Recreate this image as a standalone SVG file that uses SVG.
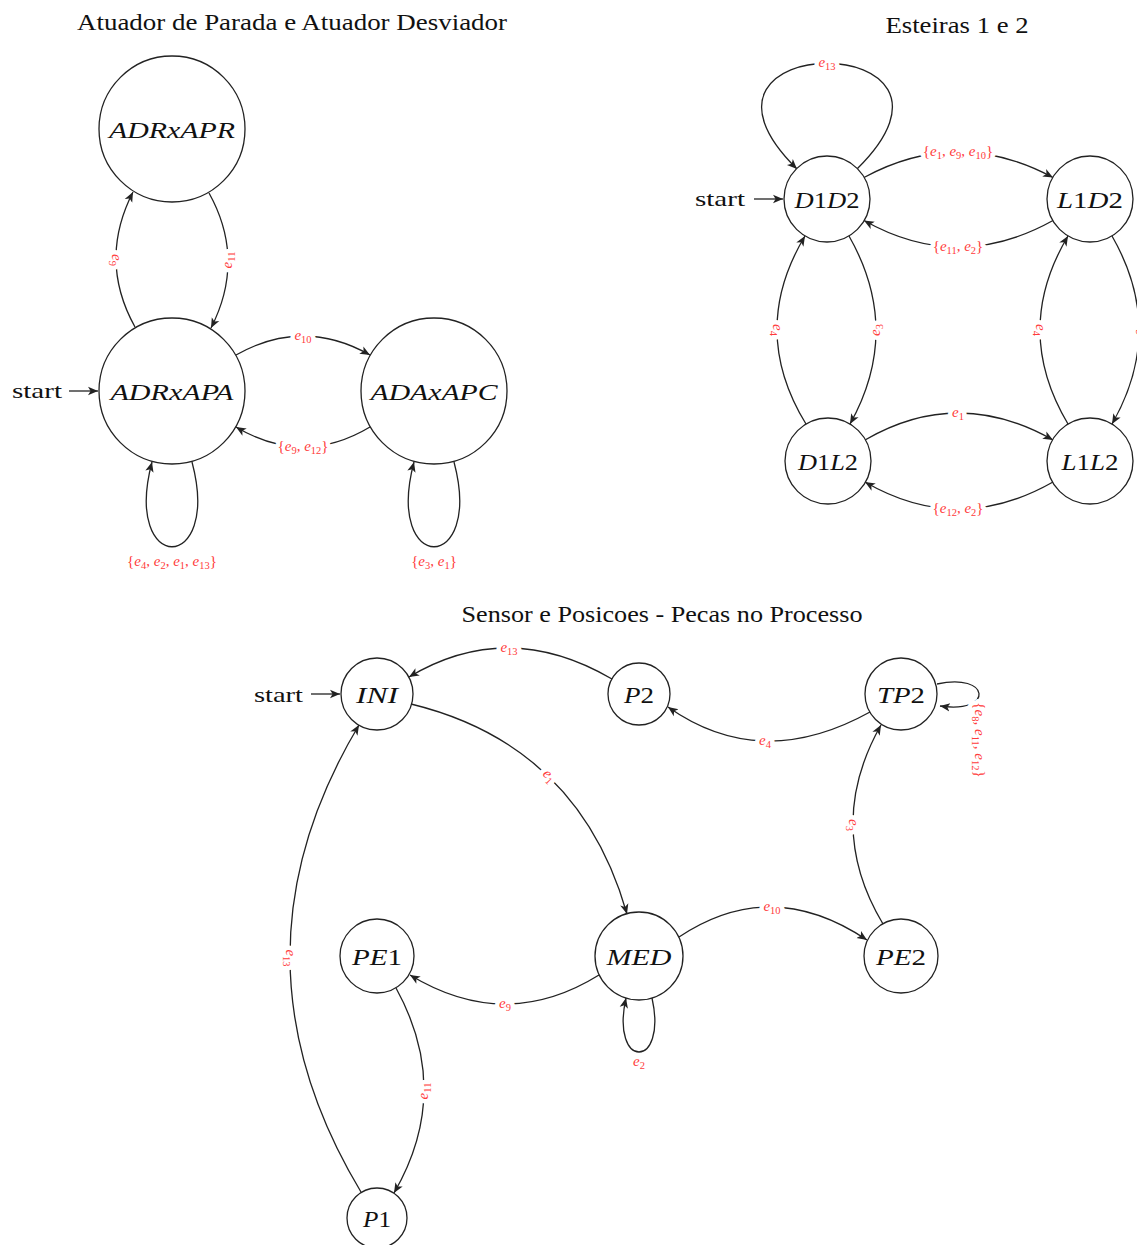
<svg xmlns="http://www.w3.org/2000/svg" xmlns:xlink="http://www.w3.org/1999/xlink" width="1137" height="1245" viewBox="0 0 1137 1245">
  <style>
    .title { font-family: "Liberation Serif", serif; font-size: 24px; fill: #111; text-anchor: middle; }
    .start { font-family: "Liberation Serif", serif; font-size: 22px; fill: #111; }
    .st { fill: #fff; stroke: #222; stroke-width: 1.3; }
    .nl { font-family: "Liberation Serif", serif; font-size: 24px; font-style: italic; fill: #111; text-anchor: middle; }
    .nl .n { font-style: normal; }
    .ed { fill: none; stroke: #222; stroke-width: 1.3; marker-end: url(#arr); }
    .lb { font-family: "Liberation Serif", serif; font-size: 15px; text-anchor: middle; }
    .lb .e { font-style: italic; }
    .lb .s { font-size: 10.5px; }
    .halo { fill: #fff; stroke: #fff; stroke-width: 9px; stroke-linejoin: round; }
    .ink { fill: #ff3b3b; stroke: none; }
  </style>
  <defs>
    <marker id="arr" markerUnits="userSpaceOnUse" viewBox="0 0 10 10" refX="10" refY="5" markerWidth="10" markerHeight="10" orient="auto">
      <path d="M10,5 L0,0.8 L2.6,5 L0,9.2 Z" fill="#222"/>
    </marker>

    <!-- edge label texts; each is drawn twice below: white halo, then red ink -->
    <text id="t-e9a" class="lb" transform="translate(116,260) rotate(90)" x="0" y="4"><tspan class="e">e</tspan><tspan class="s" dy="3">9</tspan></text>
    <text id="t-e11a" class="lb" transform="translate(228,260) rotate(-90)" x="0" y="4"><tspan class="e">e</tspan><tspan class="s" dy="3">11</tspan></text>
    <text id="t-e10a" class="lb" x="303" y="340"><tspan class="e">e</tspan><tspan class="s" dy="3">10</tspan></text>
    <text id="t-e9e12" class="lb" x="303" y="451">{<tspan class="e">e</tspan><tspan class="s" dy="3">9</tspan><tspan dy="-3">, </tspan><tspan class="e">e</tspan><tspan class="s" dy="3">12</tspan><tspan dy="-3">}</tspan></text>
    <text id="t-loopA" class="lb" x="172" y="566">{<tspan class="e">e</tspan><tspan class="s" dy="3">4</tspan><tspan dy="-3">, </tspan><tspan class="e">e</tspan><tspan class="s" dy="3">2</tspan><tspan dy="-3">, </tspan><tspan class="e">e</tspan><tspan class="s" dy="3">1</tspan><tspan dy="-3">, </tspan><tspan class="e">e</tspan><tspan class="s" dy="3">13</tspan><tspan dy="-3">}</tspan></text>
    <text id="t-loopC" class="lb" x="434" y="566">{<tspan class="e">e</tspan><tspan class="s" dy="3">3</tspan><tspan dy="-3">, </tspan><tspan class="e">e</tspan><tspan class="s" dy="3">1</tspan><tspan dy="-3">}</tspan></text>

    <text id="t-e13b" class="lb" x="827" y="67"><tspan class="e">e</tspan><tspan class="s" dy="3">13</tspan></text>
    <text id="t-e1910" class="lb" x="958" y="156">{<tspan class="e">e</tspan><tspan class="s" dy="3">1</tspan><tspan dy="-3">, </tspan><tspan class="e">e</tspan><tspan class="s" dy="3">9</tspan><tspan dy="-3">, </tspan><tspan class="e">e</tspan><tspan class="s" dy="3">10</tspan><tspan dy="-3">}</tspan></text>
    <text id="t-e112" class="lb" x="958" y="251">{<tspan class="e">e</tspan><tspan class="s" dy="3">11</tspan><tspan dy="-3">, </tspan><tspan class="e">e</tspan><tspan class="s" dy="3">2</tspan><tspan dy="-3">}</tspan></text>
    <text id="t-e4l" class="lb" transform="translate(777,330) rotate(90)" x="0" y="4"><tspan class="e">e</tspan><tspan class="s" dy="3">4</tspan></text>
    <text id="t-e3l" class="lb" transform="translate(876,330) rotate(-90)" x="0" y="4"><tspan class="e">e</tspan><tspan class="s" dy="3">3</tspan></text>
    <text id="t-e4r" class="lb" transform="translate(1040,330) rotate(90)" x="0" y="4"><tspan class="e">e</tspan><tspan class="s" dy="3">4</tspan></text>
    <text id="t-e3r" class="lb" transform="translate(1139,330) rotate(-90)" x="0" y="4"><tspan class="e">e</tspan><tspan class="s" dy="3">3</tspan></text>
    <text id="t-e1b" class="lb" x="958" y="417"><tspan class="e">e</tspan><tspan class="s" dy="3">1</tspan></text>
    <text id="t-e122" class="lb" x="958" y="513">{<tspan class="e">e</tspan><tspan class="s" dy="3">12</tspan><tspan dy="-3">, </tspan><tspan class="e">e</tspan><tspan class="s" dy="3">2</tspan><tspan dy="-3">}</tspan></text>

    <text id="t-e13c" class="lb" x="509" y="652"><tspan class="e">e</tspan><tspan class="s" dy="3">13</tspan></text>
    <text id="t-e1c" class="lb" transform="translate(549,776) rotate(45)" x="0" y="4"><tspan class="e">e</tspan><tspan class="s" dy="3">1</tspan></text>
    <text id="t-e4c" class="lb" x="765" y="745"><tspan class="e">e</tspan><tspan class="s" dy="3">4</tspan></text>
    <text id="t-loopT" class="lb" transform="translate(979,740) rotate(90)" x="0" y="4">{<tspan class="e">e</tspan><tspan class="s" dy="3">8</tspan><tspan dy="-3">, </tspan><tspan class="e">e</tspan><tspan class="s" dy="3">11</tspan><tspan dy="-3">, </tspan><tspan class="e">e</tspan><tspan class="s" dy="3">12</tspan><tspan dy="-3">}</tspan></text>
    <text id="t-e3c" class="lb" transform="translate(853,825) rotate(90)" x="0" y="4"><tspan class="e">e</tspan><tspan class="s" dy="3">3</tspan></text>
    <text id="t-e10c" class="lb" x="772" y="911"><tspan class="e">e</tspan><tspan class="s" dy="3">10</tspan></text>
    <text id="t-e9c" class="lb" x="505" y="1008"><tspan class="e">e</tspan><tspan class="s" dy="3">9</tspan></text>
    <text id="t-e2c" class="lb" x="639" y="1066"><tspan class="e">e</tspan><tspan class="s" dy="3">2</tspan></text>
    <text id="t-e11c" class="lb" transform="translate(424,1091) rotate(-90)" x="0" y="4"><tspan class="e">e</tspan><tspan class="s" dy="3">11</tspan></text>
    <text id="t-e13d" class="lb" transform="translate(290,958) rotate(90)" x="0" y="4"><tspan class="e">e</tspan><tspan class="s" dy="3">13</tspan></text>
  </defs>
  <rect width="1137" height="1245" fill="#fff"/>

  <!-- titles and start markers -->
  <text class="title" x="292" y="30" textLength="430" lengthAdjust="spacingAndGlyphs">Atuador de Parada e Atuador Desviador</text>
  <text class="title" x="957" y="33" textLength="143" lengthAdjust="spacingAndGlyphs">Esteiras 1 e 2</text>
  <text class="title" x="662" y="622" textLength="401" lengthAdjust="spacingAndGlyphs">Sensor e Posicoes - Pecas no Processo</text>
  <text class="start" x="12" y="398" textLength="50" lengthAdjust="spacingAndGlyphs">start</text>
  <text class="start" x="695" y="206" textLength="50" lengthAdjust="spacingAndGlyphs">start</text>
  <text class="start" x="254" y="702" textLength="49" lengthAdjust="spacingAndGlyphs">start</text>

  <!-- connectors -->
  <g id="edges">
    <!-- actuators -->
    <path class="ed" d="M69,391 L98,391"/>
    <path class="ed" d="M135,327 Q98,260.5 133,192"/>
    <path class="ed" d="M209,193 Q246,259.5 211,328"/>
    <path class="ed" d="M236,355 Q303,317 370,355"/>
    <path class="ed" d="M370,427 Q303,467 236,427"/>
    <path class="ed" d="M192,462 C222,575 122,575 152,462"/>
    <path class="ed" d="M454,462 C484,575 384,575 414,462"/>

    <!-- conveyors -->
    <path class="ed" d="M754,199 L783,199"/>
    <path class="ed" d="M857,169 C1000,28 654,28 797,169"/>
    <path class="ed" d="M864,177.5 Q958,126.5 1053,177.5"/>
    <path class="ed" d="M1053,220.5 Q958,273.5 864,220.5"/>
    <path class="ed" d="M806,424 Q748.5,330 805,236"/>
    <path class="ed" d="M849,236 Q902.5,330 850,424"/>
    <path class="ed" d="M1068,424 Q1012,330 1068,236"/>
    <path class="ed" d="M1112,236 Q1166,330 1112,424"/>
    <path class="ed" d="M865,440 Q958,386 1053,440"/>
    <path class="ed" d="M1053,482 Q958,536 865,482"/>

    <!-- sensor and positions -->
    <path class="ed" d="M311,694 L340,694"/>
    <path class="ed" d="M612,679 Q507.5,618 409,677"/>
    <path class="ed" d="M411,704 Q579,745 627,914"/>
    <path class="ed" d="M870,712 Q761,772.5 668,707"/>
    <path class="ed" d="M937,684 C990,672 995,714 940,706"/>
    <path class="ed" d="M883,924 Q824,825.5 881,725"/>
    <path class="ed" d="M679,937 Q771,875.5 867,940"/>
    <path class="ed" d="M599,975 Q505.5,1033 410,975"/>
    <path class="ed" d="M652,998 C668,1070 610,1070 626,998"/>
    <path class="ed" d="M396,988 Q453,1091.5 394,1193"/>
    <path class="ed" d="M361,1192 Q220,957.5 359,725"/>

    <!-- edge label halos -->
    <g class="halo">
      <use xlink:href="#t-e9a"/><use xlink:href="#t-e11a"/><use xlink:href="#t-e10a"/><use xlink:href="#t-e9e12"/>
      <use xlink:href="#t-loopA"/><use xlink:href="#t-loopC"/>
      <use xlink:href="#t-e13b"/><use xlink:href="#t-e1910"/><use xlink:href="#t-e112"/><use xlink:href="#t-e4l"/>
      <use xlink:href="#t-e3l"/><use xlink:href="#t-e4r"/><use xlink:href="#t-e3r"/><use xlink:href="#t-e1b"/><use xlink:href="#t-e122"/>
      <use xlink:href="#t-e13c"/><use xlink:href="#t-e1c"/><use xlink:href="#t-e4c"/><use xlink:href="#t-loopT"/>
      <use xlink:href="#t-e3c"/><use xlink:href="#t-e10c"/><use xlink:href="#t-e9c"/><use xlink:href="#t-e2c"/>
      <use xlink:href="#t-e11c"/><use xlink:href="#t-e13d"/>
    </g>
    <!-- edge labels -->
    <g class="ink">
      <use xlink:href="#t-e9a"/><use xlink:href="#t-e11a"/><use xlink:href="#t-e10a"/><use xlink:href="#t-e9e12"/>
      <use xlink:href="#t-loopA"/><use xlink:href="#t-loopC"/>
      <use xlink:href="#t-e13b"/><use xlink:href="#t-e1910"/><use xlink:href="#t-e112"/><use xlink:href="#t-e4l"/>
      <use xlink:href="#t-e3l"/><use xlink:href="#t-e4r"/><use xlink:href="#t-e3r"/><use xlink:href="#t-e1b"/><use xlink:href="#t-e122"/>
      <use xlink:href="#t-e13c"/><use xlink:href="#t-e1c"/><use xlink:href="#t-e4c"/><use xlink:href="#t-loopT"/>
      <use xlink:href="#t-e3c"/><use xlink:href="#t-e10c"/><use xlink:href="#t-e9c"/><use xlink:href="#t-e2c"/>
      <use xlink:href="#t-e11c"/><use xlink:href="#t-e13d"/>
    </g>
  </g>

  <!-- actuator states -->
  <g id="ADRxAPR"><circle class="st" cx="172" cy="129" r="73"/><text class="nl" x="172" y="137.5" textLength="126" lengthAdjust="spacingAndGlyphs">ADRxAPR</text></g>
  <g id="ADRxAPA"><circle class="st" cx="172" cy="391" r="73"/><text class="nl" x="172" y="399.5" textLength="123" lengthAdjust="spacingAndGlyphs">ADRxAPA</text></g>
  <g id="ADAxAPC"><circle class="st" cx="434" cy="391" r="73"/><text class="nl" x="434" y="399.5" textLength="127" lengthAdjust="spacingAndGlyphs">ADAxAPC</text></g>

  <!-- conveyor states -->
  <g id="D1D2"><circle class="st" cx="827" cy="199" r="43"/><text class="nl" x="827" y="207.5" textLength="65" lengthAdjust="spacingAndGlyphs">D<tspan class="n">1</tspan>D<tspan class="n">2</tspan></text></g>
  <g id="L1D2"><circle class="st" cx="1090" cy="199" r="43"/><text class="nl" x="1090" y="207.5" textLength="66" lengthAdjust="spacingAndGlyphs">L<tspan class="n">1</tspan>D<tspan class="n">2</tspan></text></g>
  <g id="D1L2"><circle class="st" cx="828" cy="461" r="43"/><text class="nl" x="828" y="469.5" textLength="60" lengthAdjust="spacingAndGlyphs">D<tspan class="n">1</tspan>L<tspan class="n">2</tspan></text></g>
  <g id="L1L2"><circle class="st" cx="1090" cy="461" r="43"/><text class="nl" x="1090" y="469.5" textLength="57" lengthAdjust="spacingAndGlyphs">L<tspan class="n">1</tspan>L<tspan class="n">2</tspan></text></g>

  <!-- sensor / position states -->
  <g id="INI"><circle class="st" cx="377" cy="694" r="36"/><text class="nl" x="377" y="702.5" textLength="42" lengthAdjust="spacingAndGlyphs">INI</text></g>
  <g id="P2"><circle class="st" cx="639" cy="694" r="31"/><text class="nl" x="639" y="702.5" textLength="30" lengthAdjust="spacingAndGlyphs">P<tspan class="n">2</tspan></text></g>
  <g id="TP2"><circle class="st" cx="901" cy="694" r="36"/><text class="nl" x="901" y="702.5" textLength="48" lengthAdjust="spacingAndGlyphs">TP<tspan class="n">2</tspan></text></g>
  <g id="PE1"><circle class="st" cx="377" cy="956" r="37"/><text class="nl" x="377" y="964.5" textLength="50" lengthAdjust="spacingAndGlyphs">PE<tspan class="n">1</tspan></text></g>
  <g id="MED"><circle class="st" cx="639" cy="956" r="44"/><text class="nl" x="639" y="964.5" textLength="65" lengthAdjust="spacingAndGlyphs">MED</text></g>
  <g id="PE2"><circle class="st" cx="901" cy="956" r="37"/><text class="nl" x="901" y="964.5" textLength="50" lengthAdjust="spacingAndGlyphs">PE<tspan class="n">2</tspan></text></g>
  <g id="P1"><circle class="st" cx="377" cy="1218" r="30"/><text class="nl" x="377" y="1226.5" textLength="28" lengthAdjust="spacingAndGlyphs">P<tspan class="n">1</tspan></text></g>
</svg>
